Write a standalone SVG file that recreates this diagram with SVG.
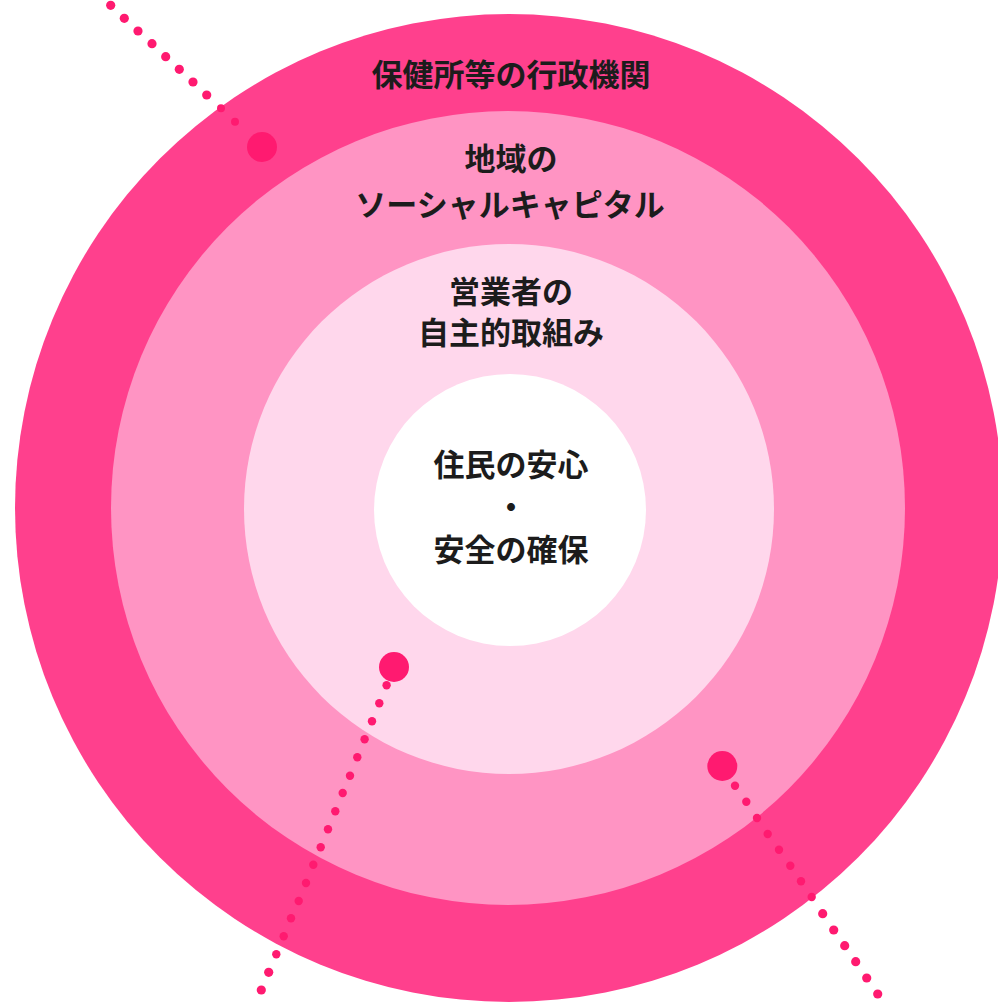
<svg xmlns="http://www.w3.org/2000/svg" width="998" height="1003" viewBox="0 0 998 1003">
<style>
.t{font-family:"Noto Sans CJK JP","Noto Sans",sans-serif;font-weight:700;font-size:31px;fill:#1c1c1c;text-anchor:middle}
.d{fill:#ff1a70}
</style>
<rect width="998" height="1003" fill="#ffffff"/>
<g id="ring-gyosei">
<circle cx="509" cy="508" r="494" fill="#ff408d"/>
<text class="t" x="511" y="86">保健所等の行政機関</text>
</g>
<g id="ring-social">
<circle cx="508" cy="508" r="397" fill="#ff94c3"/>
<text class="t" x="511" y="170">地域の</text>
<text class="t" x="510" y="216">ソーシャルキャピタル</text>
</g>
<g id="ring-eigyo">
<circle cx="509" cy="509" r="265" fill="#ffd7ec"/>
<text class="t" x="511" y="303">営業者の</text>
<text class="t" x="511" y="344">自主的取組み</text>
</g>
<g id="center">
<circle cx="510" cy="510" r="136" fill="#ffffff"/>
<text class="t" x="511" y="476">住民の安心</text>
<text class="t" x="511" y="518">・</text>
<text class="t" x="511" y="561">安全の確保</text>
</g>
<g id="connectors">
<g id="conn-1">
<circle class="d" cx="97" cy="-8" r="4.6"/>
<circle class="d" cx="110.7" cy="5.3" r="4.6"/>
<circle class="d" cx="124.3" cy="18.3" r="4.6"/>
<circle class="d" cx="138" cy="31" r="4.6"/>
<circle class="d" cx="152" cy="43.7" r="4.6"/>
<circle class="d" cx="165.7" cy="56.7" r="4.6"/>
<circle class="d" cx="179.3" cy="69.3" r="4.6"/>
<circle class="d" cx="193" cy="82" r="4.6"/>
<circle class="d" cx="206.7" cy="95" r="4.6"/>
<circle class="d" cx="221" cy="108.3" r="4"/>
<circle class="d" cx="235" cy="121.7" r="4"/>
<circle class="d" cx="262" cy="147" r="15"/>
</g>
<g id="conn-2">
<circle class="d" cx="394" cy="667" r="15"/>
<circle class="d" cx="386.6" cy="685.3" r="4.2"/>
<circle class="d" cx="379.3" cy="703.3" r="4.2"/>
<circle class="d" cx="372" cy="721.3" r="4.2"/>
<circle class="d" cx="364.6" cy="739.3" r="4.2"/>
<circle class="d" cx="357.3" cy="757.3" r="4.2"/>
<circle class="d" cx="350" cy="775.7" r="4.2"/>
<circle class="d" cx="342.7" cy="793" r="4.2"/>
<circle class="d" cx="335.3" cy="811.3" r="4.2"/>
<circle class="d" cx="328" cy="829.3" r="4.2"/>
<circle class="d" cx="320.7" cy="847.3" r="4.2"/>
<circle class="d" cx="313.3" cy="864.7" r="4.2"/>
<circle class="d" cx="306" cy="883" r="4.2"/>
<circle class="d" cx="298.7" cy="901" r="4.2"/>
<circle class="d" cx="291" cy="918.3" r="4.2"/>
<circle class="d" cx="283.7" cy="936.3" r="4.2"/>
<circle class="d" cx="276.3" cy="954.3" r="4.2"/>
<circle class="d" cx="268.7" cy="972.3" r="4.6"/>
<circle class="d" cx="261.3" cy="990" r="4.6"/>
</g>
<g id="conn-3">
<circle class="d" cx="722.3" cy="766" r="15"/>
<circle class="d" cx="735" cy="785.7" r="4.2"/>
<circle class="d" cx="746.3" cy="801.7" r="4.2"/>
<circle class="d" cx="757" cy="818" r="4.2"/>
<circle class="d" cx="767.7" cy="834" r="4.2"/>
<circle class="d" cx="779" cy="849.7" r="4.2"/>
<circle class="d" cx="790.3" cy="865.7" r="4.2"/>
<circle class="d" cx="801" cy="881.3" r="4.2"/>
<circle class="d" cx="811.7" cy="897" r="4.2"/>
<circle class="d" cx="822.7" cy="913.7" r="4.6"/>
<circle class="d" cx="833.7" cy="930" r="4.6"/>
<circle class="d" cx="844.7" cy="945.7" r="4.6"/>
<circle class="d" cx="855.7" cy="961.7" r="4.6"/>
<circle class="d" cx="866.7" cy="978" r="4.6"/>
<circle class="d" cx="877.7" cy="994" r="4.6"/>
</g>
</g>
</svg>
